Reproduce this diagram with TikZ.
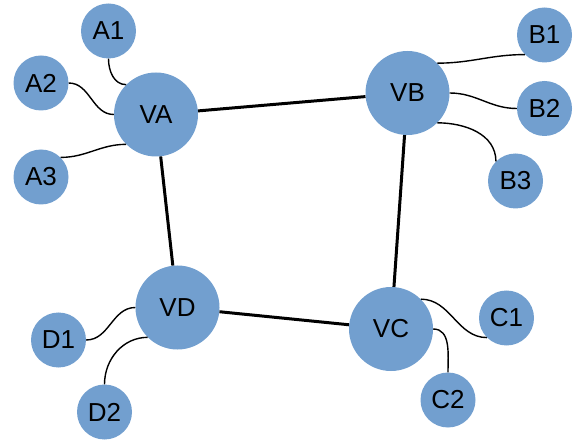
\documentclass[tikz,border=0pt]{standalone}
\usepackage{fontspec}
\setmainfont{Liberation Sans}
\definecolor{nodeblue}{HTML}{729FCF}
\begin{document}
\begin{tikzpicture}[x=1pt,y=1pt,
  bignode/.style={circle,fill=nodeblue,minimum size=84pt,inner sep=0pt,font=\fontsize{26}{26}\selectfont},
  smallnode/.style={circle,fill=nodeblue,minimum size=55pt,inner sep=0pt,font=\fontsize{26}{26}\selectfont},
  thick link/.style={line width=3pt},
  thin link/.style={line width=1.4pt}]
\useasboundingbox (0,0) rectangle (584,445);
\node[bignode] (VA) at (156,330.5) {VA};
\node[bignode] (VB) at (407.5,352) {VB};
\node[bignode] (VC) at (391,116) {VC};
\node[bignode] (VD) at (177.5,137.5) {VD};
\node[smallnode] (A1) at (108.5,414) {A1};
\node[smallnode] (A2) at (41,362) {A2};
\node[smallnode] (A3) at (41,268) {A3};
\node[smallnode] (B1) at (544.5,410) {B1};
\node[smallnode] (B2) at (544.5,336.5) {B2};
\node[smallnode] (B3) at (515.5,264) {B3};
\node[smallnode] (C1) at (506.5,127) {C1};
\node[smallnode] (C2) at (448,45) {C2};
\node[smallnode] (D1) at (58.5,105) {D1};
\node[smallnode] (D2) at (104.5,33) {D2};
\draw[thick link] (VA) -- (VB);
\draw[thick link] (VB) -- (VC);
\draw[thick link] (VC) -- (VD);
\draw[thick link] (VD) -- (VA);
\draw[thin link] (A1.-90) to[out=-90,in=180] (VA.135);
\draw[thin link] (A2.0) to[out=0,in=180] (VA.180);
\draw[thin link] (A3.45) to[out=0,in=180] (VA.225);
\draw[thin link] (VB.45) to[out=0,in=180] (B1.225);
\draw[thin link] (VB.0) to[out=0,in=180] (B2.180);
\draw[thin link] (VB.-45) to[out=0,in=90] (B3.135);
\draw[thin link] (VC.45) to[out=0,in=180] (C1.225);
\draw[thin link] (VC.0) to[out=0,in=90] (C2.90);
\draw[thin link] (VD.180) to[out=180,in=0] (D1.0);
\draw[thin link] (VD.225) to[out=180,in=90] (D2.90);
\end{tikzpicture}
\end{document}
